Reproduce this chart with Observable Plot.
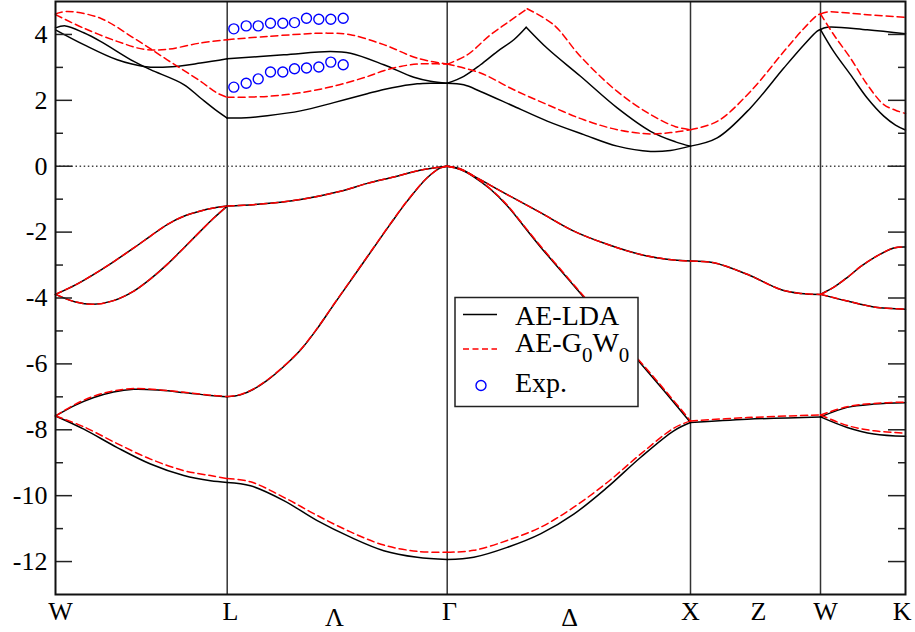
<!DOCTYPE html>
<html><head><meta charset="utf-8">
<script src="https://cdn.jsdelivr.net/npm/d3@7"></script>
<script src="https://cdn.jsdelivr.net/npm/@observablehq/plot@0.6"></script>
<style>
body{margin:0;background:#fff}
#chart{width:915px;height:632px}
#chart svg text, #chart svg tspan{font-family:"Liberation Serif", serif !important;}
</style>
</head><body><div id="chart"></div>
<script>
// high-symmetry points along the path (k units)
const kPoints = [0, 1.717, 3.917, 6.35, 7.65, 8.5]; // W L Γ X W K
const labelsMain = ["W", "L", "Γ", "X", "Z", "W", "K"];
const labelsMainK = [0.05, 1.75, 3.94, 6.35, 7.03, 7.70, 8.467];
const labelsLine = ["Λ", "Δ"];
const labelsLineK = [2.79, 5.14];
const yMajor = [-12, -10, -8, -6, -4, -2, 0, 2, 4];
const yMinor = [-11, -9, -7, -5, -3, -1, 1, 3];

// ---- AE-LDA bands [k, E(eV)] ----
const ldaV1 = [[0,-7.58],[0.283,-7.98],[0.617,-8.54],[0.95,-9.04],[1.283,-9.39],[1.55,-9.55],[1.717,-9.6],[1.95,-9.7],[2.283,-10.15],[2.617,-10.76],[2.95,-11.26],[3.283,-11.67],[3.617,-11.87],[3.917,-11.94],[4.183,-11.87],[4.517,-11.57],[4.85,-11.16],[5.183,-10.56],[5.517,-9.75],[5.85,-8.84],[6.183,-8.03],[6.35,-7.78],[6.917,-7.68],[7.65,-7.61],[7.917,-7.93],[8.183,-8.13],[8.5,-8.2]];
const ldaV2 = [[0,-7.58],[0.2,-7.25],[0.383,-7.02],[0.58,-6.85],[0.783,-6.77],[1.05,-6.8],[1.283,-6.87],[1.55,-6.96],[1.717,-7.0],[1.85,-6.94],[1.98,-6.77],[2.117,-6.5],[2.283,-6.08],[2.45,-5.58],[2.617,-4.93],[2.783,-4.2],[2.95,-3.48],[3.183,-2.47],[3.35,-1.75],[3.517,-1.06],[3.717,-0.35],[3.85,-0.05],[3.917,0],[4.05,-0.1],[4.183,-0.32],[4.35,-0.7],[4.517,-1.2],[4.683,-1.82],[4.85,-2.45],[5.133,-3.45],[5.283,-3.98],[5.57,-5.0],[5.85,-5.98],[6.1,-6.87],[6.35,-7.78]];
const ldaV2b = [[7.65,-7.61],[7.917,-7.32],[8.183,-7.22],[8.5,-7.18]];
const ldaV3 = [[0,-3.89],[0.2,-4.12],[0.383,-4.19],[0.58,-4.08],[0.783,-3.79],[0.95,-3.42],[1.117,-2.98],[1.283,-2.48],[1.45,-1.97],[1.58,-1.58],[1.717,-1.21],[2.05,-1.15],[2.45,-1.01],[2.85,-0.76],[3.12,-0.52],[3.35,-0.35],[3.683,-0.1],[3.917,0],[4.05,-0.08],[4.183,-0.3],[4.35,-0.58],[4.517,-0.86],[4.85,-1.41],[5.183,-1.97],[5.517,-2.37],[5.85,-2.68],[6.183,-2.85],[6.35,-2.88],[6.583,-2.93],[6.917,-3.28],[7.25,-3.74],[7.45,-3.86],[7.65,-3.89],[7.917,-4.09],[8.183,-4.27],[8.5,-4.34]];
const ldaV4a = [[0,-3.89],[0.2,-3.6],[0.383,-3.28],[0.58,-2.9],[0.783,-2.48],[0.95,-2.12],[1.117,-1.77],[1.283,-1.52],[1.45,-1.36],[1.58,-1.27],[1.717,-1.21]];
const ldaV4b = [[7.65,-3.89],[7.78,-3.68],[7.917,-3.38],[8.05,-3.05],[8.183,-2.78],[8.383,-2.48],[8.5,-2.45]];
const ldaC1 = [[0,4.2],[0.1,4.26],[0.283,4.05],[0.45,3.79],[0.783,3.18],[0.95,2.93],[1.283,2.48],[1.45,2.07],[1.617,1.67],[1.717,1.46],[1.95,1.48],[2.117,1.53],[2.45,1.68],[2.783,1.93],[3.117,2.2],[3.283,2.33],[3.45,2.43],[3.617,2.5],[3.75,2.52],[3.917,2.52],[4.083,2.47],[4.25,2.27],[4.583,1.82],[4.917,1.37],[5.283,0.96],[5.617,0.61],[5.95,0.45],[6.15,0.48],[6.35,0.61],[6.617,0.86],[6.95,1.77],[7.283,2.98],[7.483,3.68],[7.617,4.1],[7.65,4.15],[7.783,3.48],[7.95,2.78],[8.117,2.07],[8.283,1.52],[8.4,1.25],[8.5,1.1]];
const ldaC2 = [[0,4.14],[0.283,3.69],[0.617,3.23],[0.883,3.03],[1.117,3.01],[1.45,3.13],[1.717,3.26],[2.283,3.38],[2.75,3.48],[2.95,3.43],[3.283,3.08],[3.583,2.7],[3.75,2.58],[3.917,2.52],[4.083,2.73],[4.25,3.08],[4.417,3.48],[4.583,3.84],[4.707,4.22],[4.917,3.58],[5.25,2.73],[5.617,1.77],[5.95,1.06],[6.2,0.74],[6.35,0.61]];
const ldaC2b = [[7.65,4.15],[7.717,4.22],[8.117,4.14],[8.5,4.02]];

// ---- AE-G0W0 bands [k, E(eV)] ----
const gwV1 = [[0,-7.58],[0.283,-7.91],[0.617,-8.42],[0.95,-8.89],[1.283,-9.24],[1.55,-9.39],[1.717,-9.48],[1.95,-9.58],[2.283,-10.05],[2.617,-10.6],[2.95,-11.1],[3.283,-11.5],[3.617,-11.69],[3.917,-11.72],[4.183,-11.66],[4.517,-11.36],[4.85,-10.96],[5.183,-10.35],[5.517,-9.6],[5.85,-8.74],[6.183,-7.95],[6.35,-7.73],[6.917,-7.63],[7.65,-7.55],[7.917,-7.87],[8.183,-8.03],[8.5,-8.1]];
const gwV2 = [[0,-7.58],[0.2,-7.22],[0.383,-6.98],[0.58,-6.82],[0.783,-6.75],[1.05,-6.79],[1.283,-6.86],[1.55,-6.95],[1.717,-6.99],[1.85,-6.93],[1.98,-6.76],[2.117,-6.49],[2.283,-6.07],[2.45,-5.57],[2.617,-4.92],[2.783,-4.19],[2.95,-3.47],[3.183,-2.46],[3.35,-1.74],[3.517,-1.05],[3.717,-0.35],[3.85,-0.05],[3.917,0],[4.05,-0.1],[4.183,-0.31],[4.35,-0.69],[4.517,-1.18],[4.683,-1.8],[4.85,-2.42],[5.133,-3.42],[5.283,-3.95],[5.57,-4.97],[5.85,-5.94],[6.1,-6.82],[6.35,-7.73]];
const gwV2b = [[7.65,-7.55],[7.917,-7.3],[8.183,-7.2],[8.5,-7.16]];
const gwV3 = ldaV3;
const gwV4a = ldaV4a;
const gwV4b = ldaV4b;
const gwC1 = [[0,4.62],[0.117,4.7],[0.45,4.49],[0.783,3.89],[1.117,3.23],[1.45,2.58],[1.617,2.22],[1.717,2.09],[2.117,2.12],[2.45,2.23],[2.783,2.43],[3.117,2.72],[3.283,2.9],[3.45,3.03],[3.617,3.1],[3.75,3.11],[3.917,3.1],[4.25,2.83],[4.583,2.32],[4.917,1.87],[5.283,1.41],[5.617,1.11],[5.95,0.98],[6.15,1.02],[6.35,1.11],[6.617,1.36],[6.95,2.27],[7.283,3.48],[7.483,4.18],[7.617,4.58],[7.65,4.62],[7.783,3.99],[7.95,3.28],[8.117,2.48],[8.283,1.87],[8.4,1.7],[8.5,1.6]];
const gwC2 = [[0,4.6],[0.283,4.19],[0.617,3.79],[0.883,3.55],[1.117,3.55],[1.45,3.74],[1.717,3.84],[2.117,3.94],[2.717,4.04],[2.95,3.99],[3.283,3.69],[3.617,3.28],[3.917,3.1],[4.117,3.38],[4.35,3.99],[4.53,4.38],[4.717,4.78],[4.983,4.29],[5.25,3.33],[5.617,2.27],[5.95,1.57],[6.2,1.2],[6.35,1.11]];
const gwC2b = [[7.65,4.62],[7.717,4.68],[8.117,4.6],[8.5,4.52]];

// ---- Experiment ----
const expK = [1.783, 1.907, 2.027, 2.15, 2.273, 2.39, 2.51, 2.633, 2.753, 2.877];
const expUpper = [4.17, 4.26, 4.26, 4.34, 4.34, 4.36, 4.49, 4.46, 4.46, 4.49];
const expLower = [2.40, 2.52, 2.65, 2.86, 2.86, 2.96, 2.98, 3.01, 3.16, 3.08];

// kink positions (band crossings inside a segment)
const kinks = {ldaC2: [4.707], gwC2: [4.717]};

function toRows(name, pts) {
  const br = [...kPoints, ...(kinks[name] || [])].sort((a, b) => a - b);
  const rows = [];
  for (let s = 0; s < br.length - 1; s++) {
    const lo = br[s], hi = br[s + 1];
    const seg = pts.filter(([k]) => k >= lo - 1e-9 && k <= hi + 1e-9);
    if (seg.length >= 2) seg.forEach(([k, e]) => rows.push({k, e, id: name + "-" + s}));
  }
  return rows;
}
const ldaSets = {ldaV1, ldaV2, ldaV2b, ldaV3, ldaV4a, ldaV4b, ldaC1, ldaC2, ldaC2b};
const gwSets = {gwV1, gwV2, gwV2b, gwV3, gwV4a, gwV4b, gwC1, gwC2, gwC2b};
const ldaRows = Object.entries(ldaSets).flatMap(([n, p]) => toRows(n, p));
const gwRows = Object.entries(gwSets).flatMap(([n, p]) => toRows(n, p));
const expRows = [...expK.map((k, i) => ({k, e: expUpper[i]})), ...expK.map((k, i) => ({k, e: expLower[i]}))];

const FONT = "Liberation Serif, serif";
const fmt = d => d < 0 ? "-" + Math.abs(d) : String(d);
const blank = () => "";
const tickStyle = {tickFormat: blank, label: null, stroke: "#222", strokeWidth: 1.5};

const plot = Plot.plot({
  width: 915, height: 632,
  marginLeft: 55, marginRight: 10, marginTop: 1, marginBottom: 38,
  style: {fontFamily: FONT, fontSize: "26px", background: "white"},
  x: {domain: [0, 8.5], axis: null},
  y: {domain: [-13, 5], label: null},
  marks: [
    Plot.ruleX(kPoints.slice(1, -1), {stroke: "#333", strokeWidth: 1.5}),
    Plot.ruleY([0], {stroke: "#444", strokeWidth: 1.5, strokeDasharray: "1.5,2.6"}),
    Plot.line(ldaRows, {x: "k", y: "e", z: "id", curve: "catmull-rom", stroke: "black", strokeWidth: 1.5}),
    Plot.line(gwRows, {x: "k", y: "e", z: "id", curve: "catmull-rom", stroke: "#ff0000", strokeWidth: 1.5, strokeDasharray: "7,4"}),
    Plot.dot(expRows, {x: "k", y: "e", r: 5, stroke: "#0000ff", strokeWidth: 1.4, fill: "none"}),
    Plot.axisY({anchor: "left", ticks: yMajor, tickSize: 17, dx: 17, ...tickStyle}),
    Plot.axisY({anchor: "left", ticks: yMinor, tickSize: 8, dx: 8, ...tickStyle}),
    Plot.axisY({anchor: "right", ticks: yMajor, tickSize: 18, dx: -18, ...tickStyle}),
    Plot.axisY({anchor: "right", ticks: yMinor, tickSize: 8, dx: -8, ...tickStyle}),
    Plot.axisY({anchor: "left", ticks: yMajor, tickSize: 0, tickPadding: 8, tickFormat: fmt, label: null, fontSize: 26, fontFamily: FONT, fill: "black"}),
    Plot.text(labelsMain, {x: (d, i) => labelsMainK[i], frameAnchor: "bottom", text: d => d, lineAnchor: "top", dy: 7, fontSize: 26, fontFamily: FONT, fill: "black"}),
    Plot.text(labelsLine, {x: (d, i) => labelsLineK[i], frameAnchor: "bottom", text: d => d, lineAnchor: "top", dy: 13, fontSize: 26, fontFamily: FONT, fill: "black"}),
    Plot.frame({stroke: "#111", strokeWidth: 2})
  ]
});
document.getElementById("chart").appendChild(plot);

// legend (inside the plot, white box)
const legendLabels = ["AE-LDA", "AE-G", "Exp."];
const svg = d3.select(plot);
const g = svg.append("g").attr("font-family", FONT).attr("font-size", 28)
  .attr("text-anchor", "start").attr("fill", "black");
g.append("rect").attr("x", 455).attr("y", 297.5).attr("width", 183).attr("height", 109)
  .attr("fill", "white").attr("stroke", "#222").attr("stroke-width", 1.5);
g.append("line").attr("x1", 463).attr("x2", 497).attr("y1", 314.5).attr("y2", 314.5)
  .attr("stroke", "black").attr("stroke-width", 1.3);
g.append("line").attr("x1", 463).attr("x2", 497).attr("y1", 349).attr("y2", 349)
  .attr("stroke", "#ff0000").attr("stroke-width", 1.3).attr("stroke-dasharray", "6,3.5");
g.append("circle").attr("cx", 481).attr("cy", 385.5).attr("r", 5)
  .attr("fill", "none").attr("stroke", "#0000ff").attr("stroke-width", 1.4);
g.append("text").attr("x", 515).attr("y", 325).text(legendLabels[0]);
const t2 = g.append("text").attr("x", 515).attr("y", 351.5);
t2.append("tspan").text(legendLabels[1]);
t2.append("tspan").attr("font-size", 21).attr("dy", 10).text("0");
t2.append("tspan").attr("dy", -10).text("W");
t2.append("tspan").attr("font-size", 21).attr("dy", 10).text("0");
g.append("text").attr("x", 515).attr("y", 391.5).text(legendLabels[2]);
</script>
</body></html>
